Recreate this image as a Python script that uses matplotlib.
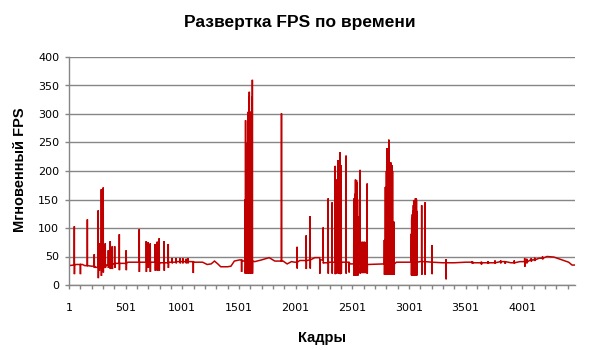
import numpy as np
import matplotlib
matplotlib.use("Agg")
import matplotlib.pyplot as plt
from matplotlib.ticker import FixedLocator, NullFormatter

# Плавная часть графика: опорные кадры и FPS
base_frames = [1, 40, 60, 120, 140, 200, 230, 260, 300, 330, 380, 420, 470, 520,
               600, 700, 800, 880, 950, 1050, 1100, 1180, 1220, 1255, 1285, 1314,
               1340, 1400, 1430, 1460, 1505, 1540, 1640, 1700, 1767, 1817, 1890,
               1926, 1964, 1993, 2037, 2126, 2170, 2214, 2244, 2300, 2420, 2479,
               2600, 2770, 2890, 3037, 3100, 3200, 3300, 3400, 3500, 3572, 3700,
               3807, 3900, 3980, 4022, 4072, 4150, 4219, 4280, 4337, 4380, 4410,
               4440, 4466]
base_fps = [34, 35, 36, 36, 34, 33, 31, 30, 31, 35, 37, 38, 38, 40,
            40, 40, 39, 40, 41, 41, 40, 40, 36, 37, 42, 37,
            32, 32, 33, 42, 44, 42, 41, 44, 48, 42, 42,
            37, 41, 40, 43, 44, 48, 44, 39, 40, 40, 37,
            36, 37, 40, 40, 41, 40, 39, 39, 40, 39, 39,
            41, 39, 41, 40, 44, 47, 50, 49, 45, 42, 40,
            35, 35]

# Одиночные выбросы: кадр, пик, провал в следующем кадре
single_frames = [3, 48, 101, 163, 224, 259, 268, 286, 303, 321, 348, 365, 383, 404,
                 445, 506, 621, 683, 700, 718, 762, 780, 797, 841, 877,
                 911, 946, 982, 1005, 1035, 1050, 1097, 1523, 1876,
                 2014, 2094, 2129, 2214, 2244, 2288, 2323, 2350, 2359, 2376, 2385,
                 2394, 2403, 2446, 2472, 2570, 2632,
                 3113, 3143, 3204, 3328, 3560, 3640, 3700, 3760, 3810, 3850,
                 3930, 4022, 4040, 4080, 4110, 4180]
single_tops = [61, 103, 36, 115, 54, 131, 73, 168, 171, 73, 61, 77, 68, 68,
               89, 61, 98, 77, 75, 73, 72, 76, 82, 77, 72,
               47, 47, 47, 47, 46, 47, 40, 42, 301,
               67, 87, 121, 44, 101, 152, 145, 209, 185, 219, 185,
               233, 210, 227, 37, 202, 178,
               140, 145, 70, 45, 42, 41, 42, 43, 43, 42,
               43, 47, 46, 47, 48, 50]
single_lows = [34, 19, 19, 34, 30, 12, 25, 16, 22, 30, 30, 28, 28, 30,
               26, 26, 23, 23, 30, 23, 25, 25, 25, 25, 30,
               38, 38, 38, 38, 38, 38, 21, 23, 42,
               29, 28, 29, 20, 38, 20, 20, 19, 20, 20, 20,
               19, 20, 20, 22, 20, 20,
               18, 18, 19, 10, 37, 36, 37, 38, 38, 37,
               38, 32, 38, 41, 42, 45]

# Пачки выбросов
burst1_frames = [1556, 1559, 1562, 1565, 1568, 1571, 1574, 1577, 1580, 1583, 1586,
                 1589, 1592, 1595, 1598, 1601, 1604, 1607, 1610, 1613, 1616, 1619]
burst1_tops = [150, 289, 175, 160, 175, 202, 202, 250, 290, 304, 300,
               330, 339, 304, 304, 290, 278, 278, 270, 278, 330, 360]

burst2_frames = [2514, 2517, 2520, 2523, 2526, 2529, 2532, 2535, 2538, 2541, 2544,
                 2547, 2550]
burst2_tops = [100, 152, 150, 156, 160, 185, 180, 170, 184, 180, 160, 150, 120]

burst3_frames = [2575, 2578, 2581, 2584, 2587, 2590, 2593, 2596, 2599, 2602, 2605,
                 2608, 2611, 2614, 2617, 2620, 2623, 2626]
burst3_tops = [72, 75, 70, 74, 76, 68, 73, 75, 70, 72, 76, 74, 70, 73, 75, 71, 74, 76]

burst4_frames = [2784, 2787, 2790, 2793, 2796, 2799, 2802, 2805, 2808, 2811, 2814,
                 2817, 2820, 2823, 2826, 2829, 2832, 2835, 2838, 2841, 2844, 2847,
                 2850, 2853, 2856, 2859, 2862, 2865, 2870]
burst4_tops = [79, 79, 79, 172, 172, 160, 200, 240, 240, 178, 178,
               175, 230, 255, 240, 213, 213, 205, 213, 215, 210, 209,
               210, 208, 200, 60, 55, 50, 111]

burst5_frames = [3022, 3025, 3028, 3031, 3034, 3037, 3040, 3043, 3046, 3049, 3052,
                 3055, 3058, 3061, 3064, 3067, 3070]
burst5_tops = [90, 115, 118, 124, 124, 130, 140, 149, 145, 143, 143,
               148, 152, 152, 145, 150, 130]

burst_lows = {1: 20, 2: 17, 3: 21, 4: 18, 5: 17}

spikes = list(zip(single_frames, single_tops, single_lows))
for k, (fr, tp) in enumerate([(burst1_frames, burst1_tops), (burst2_frames, burst2_tops),
                              (burst3_frames, burst3_tops), (burst4_frames, burst4_tops),
                              (burst5_frames, burst5_tops)], start=1):
    spikes += [(f, t, burst_lows[k]) for f, t in zip(fr, tp)]


def hold(f):
    i = np.searchsorted(base_frames, f, side="right") - 1
    return base_fps[max(i, 0)]


marks = {}
for f, top, low in spikes:
    marks[f] = top
    marks[f + 1] = low

points = {f: v for f, v in zip(base_frames, base_fps) if f not in marks}
for f, top, low in spikes:
    for g in (f - 1, f + 2):
        if g not in marks and g >= 1:
            points[g] = hold(g)
points.update(marks)

frames = sorted(points)
fps = [points[f] for f in frames]

plt.rcParams["font.family"] = ["DejaVu Sans"]
grey = "#868686"

fig = plt.figure(figsize=(6, 3.5), dpi=100)
ax = fig.add_axes([69 / 600, 1 - 285 / 350, 506 / 600, 228 / 350])

ax.plot(frames, fps, color="#C00000", lw=1.1, solid_joinstyle="miter")

ax.set_xlim(1, 4466)
ax.set_ylim(0, 400)
ax.set_yticks(np.arange(0, 401, 50))
ax.yaxis.grid(True, color=grey, lw=1)
ax.set_axisbelow(True)

xt = [1, 501, 1001, 1501, 2001, 2501, 3001, 3501, 4001]
ax.set_xticks(xt)
ax.set_xticklabels([str(v) for v in xt])
ax.xaxis.set_minor_locator(FixedLocator(np.arange(101, 4466, 100)))
ax.xaxis.set_minor_formatter(NullFormatter())

for s in ["top", "right"]:
    ax.spines[s].set_visible(False)
for s in ["left", "bottom"]:
    ax.spines[s].set_color(grey)
    ax.spines[s].set_linewidth(1)

ax.tick_params(axis="x", which="both", length=3.2, color=grey, width=1,
               labelsize=8, pad=10)
ax.tick_params(axis="y", length=3, color=grey, width=1, labelsize=8, pad=4)

title_font = ["Liberation Sans", "DejaVu Sans"]
fig.text(0.5, 1 - 23 / 350, "Развертка FPS по времени", ha="center", va="center",
         fontsize=12.5, fontweight="bold", family=title_font)
fig.text(322 / 600, 1 - 338 / 350, "Кадры", ha="center", va="center",
         fontsize=10.5, fontweight="bold", family=title_font)
fig.text(20 / 600, 1 - 170 / 350, "Мгновенный FPS", ha="center", va="center",
         rotation=90, fontsize=10.5, fontweight="bold", family=title_font)

fig.savefig("out.png", dpi=100)
